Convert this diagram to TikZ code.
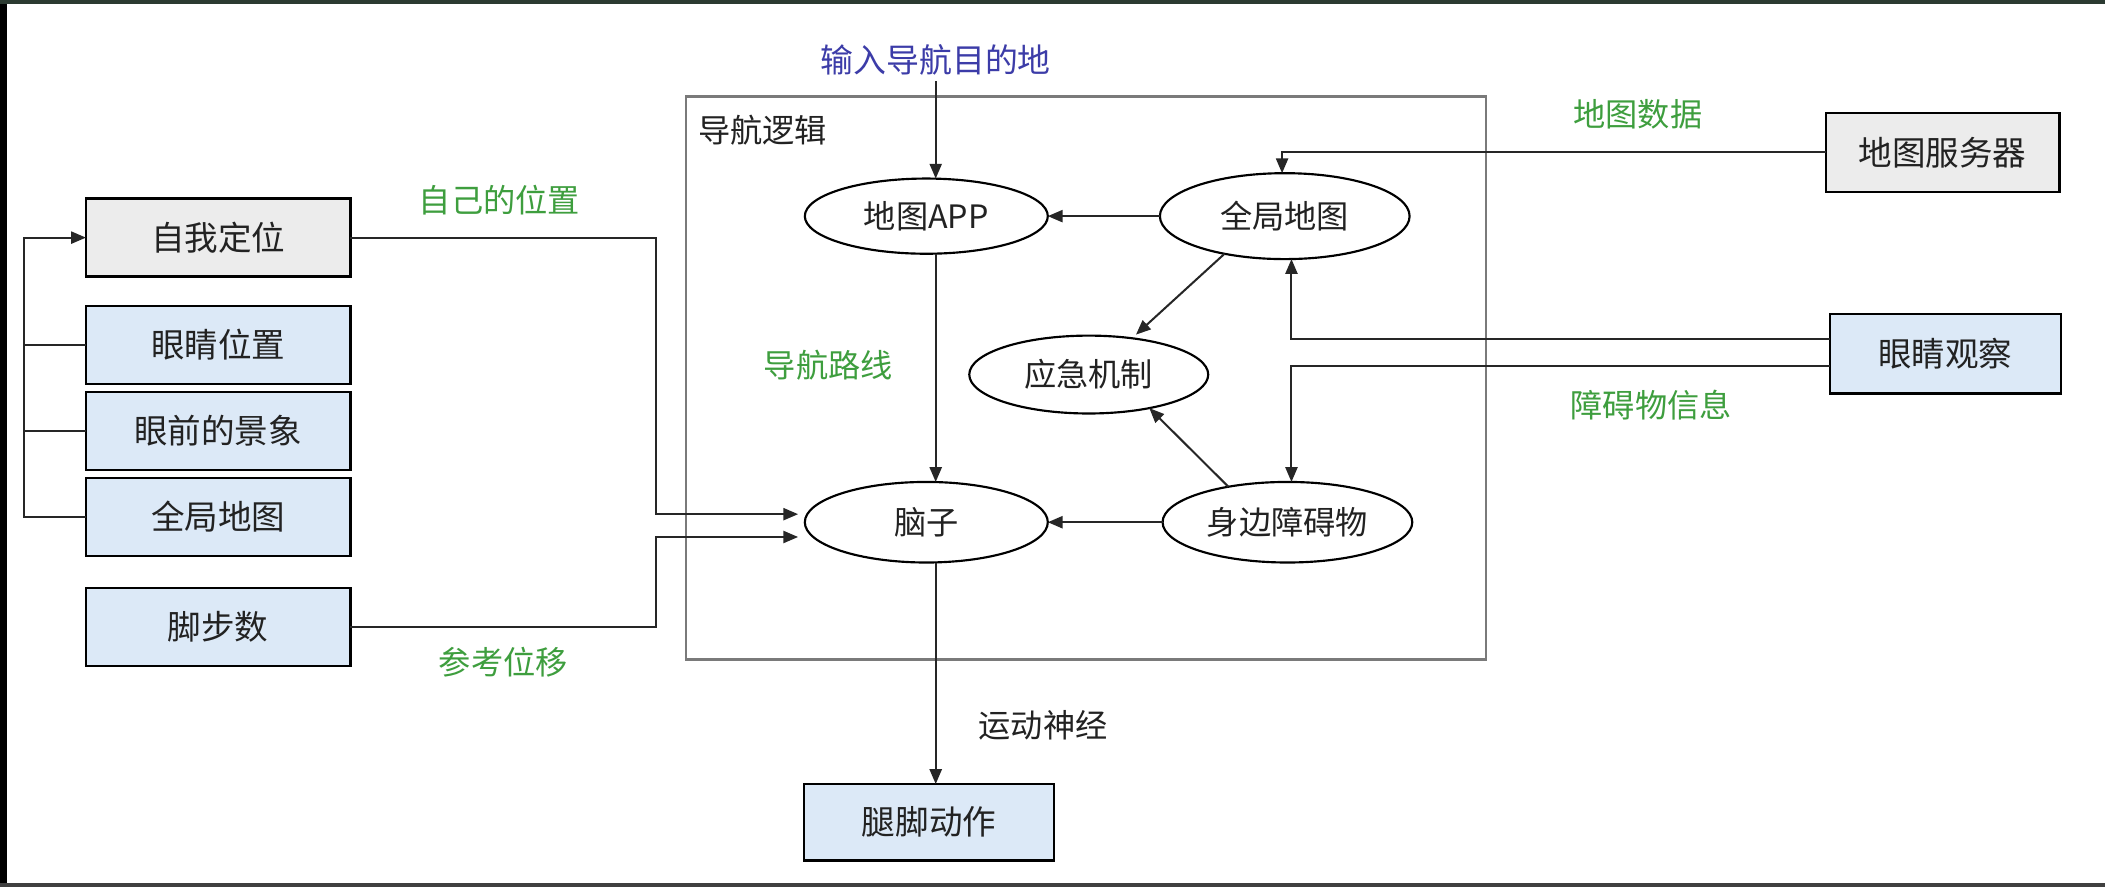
\documentclass[tikz,border=0pt]{standalone}
\usepackage{fontspec}
\setmainfont{Noto Sans CJK SC}
\usetikzlibrary{arrows.meta,shapes.geometric}

\definecolor{boxgray}{HTML}{ECECEC}
\definecolor{boxblue}{HTML}{DCE9F7}
\definecolor{lblgreen}{HTML}{3E9E3E}
\definecolor{lblblue}{HTML}{3C3CA8}
\definecolor{framegray}{HTML}{7A7A7A}
\definecolor{linegray}{HTML}{262626}
\definecolor{textgray}{HTML}{222222}
\definecolor{edgetop}{HTML}{2B3A31}

\begin{document}
\begin{tikzpicture}[x=1pt,y=-1pt,
  every node/.style={inner sep=0pt, outer sep=0pt},
  txt/.style={font=\fontsize{24}{27}\selectfont, text=textgray},
  btxt/.style={font=\fontsize{25}{28}\selectfont, text=textgray},
  sbox/.style={btxt, rectangle, draw=black, line width=1.8pt,
    minimum width=197pt, minimum height=58pt},
  grayfill/.style={fill=boxgray},
  bluefill/.style={fill=boxblue},
  oval/.style={txt, ellipse, draw=black, line width=1.6pt},
  glabel/.style={font=\fontsize{24}{27}\selectfont, text=lblgreen},
  conn/.style={draw=linegray, line width=1.5pt,
    -{Triangle[length=11pt,width=9pt]}},
  wire/.style={draw=linegray, line width=1.5pt}]

% canvas and screen edges
\useasboundingbox (0,0) rectangle (1568,661);
\fill[white] (0,0) rectangle (1568,661);
\fill[black] (0,0) rectangle (5,661);
\fill[edgetop] (0,0) rectangle (1568,3);
\fill[black!75] (0,658) rectangle (1568,661);

% navigation logic frame
\node[draw=framegray, line width=2pt, minimum width=596pt, minimum height=419pt]
  (nav) at (809,281.5) {};
\node[txt, anchor=west] (navlbl) at (520,97) {导航逻辑};

% left inputs
\node[sbox, grayfill] (selfloc) at (162.5,177) {自我定位};
\node[sbox, bluefill] (eyepos)  at (162.5,257) {眼睛位置};
\node[sbox, bluefill] (scene)   at (162.5,321) {眼前的景象};
\node[sbox, bluefill] (gmapL)   at (162.5,385) {全局地图};
\node[sbox, bluefill] (steps)   at (162.5,467) {脚步数};

% right inputs and output
\node[sbox, grayfill, minimum width=174pt, minimum height=59pt] (server) at (1447,113.5) {地图服务器};
\node[sbox, bluefill, minimum width=172pt, minimum height=59pt] (eyeobs) at (1449,263.5) {眼睛观察};
\node[sbox, bluefill, minimum width=186pt, minimum height=57pt] (legs) at (692,612.5) {腿脚动作};

% processing ovals
\node[oval, minimum width=181pt, minimum height=56pt] (app)   at (690,161) {地图APP};
\node[oval, minimum width=186pt, minimum height=64pt] (gmap)  at (957,161) {全局地图};
\node[oval, minimum width=178pt, minimum height=58pt] (emerg) at (811,279) {应急机制};
\node[oval, minimum width=181pt, minimum height=60pt] (brain) at (690,389) {脑子};
\node[oval, minimum width=186pt, minimum height=60pt] (obst)  at (959,389) {身边障碍物};

% labels
\node[font=\fontsize{24.5}{27}\selectfont, text=lblblue] (dest) at (697,45) {输入导航目的地};
\node[glabel] (lself)  at (372,149) {自己的位置};
\node[glabel] (lstep)  at (375,493) {参考位移};
\node[glabel] (lroute) at (617,272) {导航路线};
\node[glabel] (lmap)   at (1220,85) {地图数据};
\node[glabel] (lobst)  at (1230,302) {障碍物信息};
\node[txt] (lmotor) at (777,540) {运动神经};

% left bus into self localisation
\draw[conn] (gmapL.west) -- ++(-46,0) |- (selfloc.west);
\draw[wire] (eyepos.west) -- ++(-46,0);
\draw[wire] (scene.west) -- ++(-46,0);

% inputs to the brain
\draw[conn] (selfloc.east) -- ++(228,0) |- ([yshift=6pt,xshift=-5pt]brain.west);
\draw[conn] (steps.east) -- ++(228,0) |- ([yshift=-11pt,xshift=-5pt]brain.west);

% internal flow
\draw[conn] ([yshift=-4pt]dest.south) -- (dest |- app.north);
\draw[conn] (gmap.west) -- (app.east);
\draw[conn] (app.south -| dest) -- (brain.north -| dest);
\draw[conn, shorten >=4pt] (gmap.212) -- (emerg.40);
\draw[conn] (obst.149) -- (emerg.331);
\draw[conn] (obst.west) -- (brain.east);
\draw[conn] (brain.south -| dest) -- (legs.north -| dest);

% external data
\draw[conn] (server.west) -| ([xshift=-2pt]gmap.north);
\draw[conn] ([yshift=11pt]eyeobs.west) -| ([xshift=5pt]gmap.south);
\draw[conn] ([yshift=-9pt]eyeobs.west) -| ([xshift=3pt]obst.north);
\end{tikzpicture}
\end{document}
